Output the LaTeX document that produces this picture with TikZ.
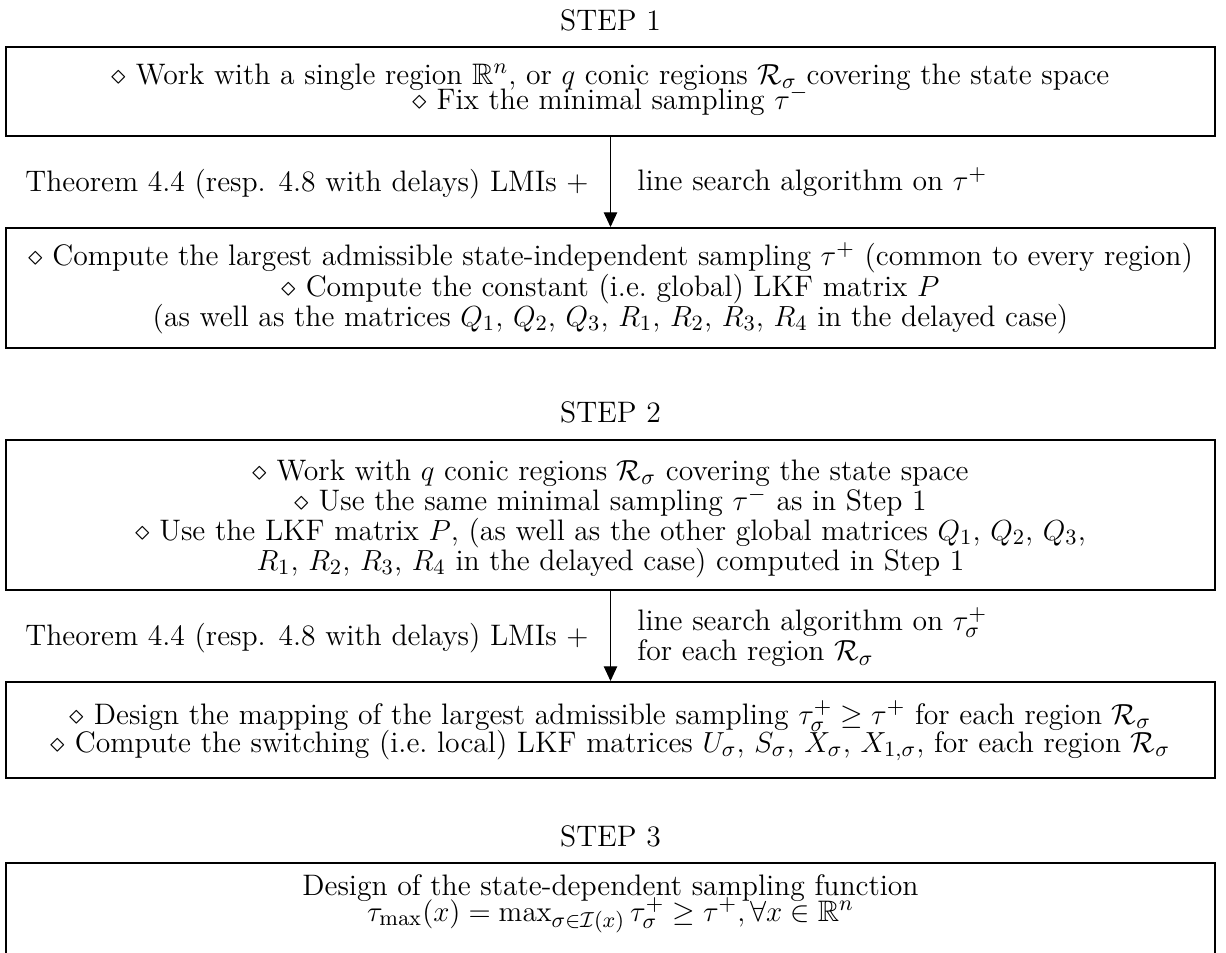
\documentclass[tikz,border=0pt]{standalone}
\usepackage{amsmath,amssymb}
\usetikzlibrary{arrows.meta}
\newcommand\myfs[1]{\fontsize{12.25}{#1}\selectfont\lineskiplimit=-\maxdimen}
\begin{document}
\begin{tikzpicture}[x=0.41322pt,y=-0.41322pt,
  every node/.style={font=\myfs{12.4pt}},
  box/.style={draw, line width=0.8pt, minimum width=499.6pt, inner sep=0pt},
  txt/.style={align=center, inner sep=0pt},
  lbl/.style={inner sep=0pt},
  arr/.style={-{Triangle[length=6pt,width=5.5pt]}, line width=0.4pt}]
\clip (0,0) rectangle (1226,953);
% STEP 1
\node[lbl] (s1) at (610.5,20) {STEP 1};
\node[box, minimum height=36.8pt] (b1) at (610.5,91.5) {};
\node[txt, font=\myfs{10.5pt}] (t1) at (610.5,89.5) {$\diamond$ Work with a single region $\mathbb{R}^n$, or $q$ conic regions $\mathcal{R}_\sigma$ covering the state space\\
$\diamond$ Fix the minimal sampling $\tau^-$};
\node[box, minimum height=49.6pt] (b2) at (610.5,288) {};
\node[txt] (t2) at (610.5,288) {$\diamond$ Compute the largest admissible state-independent sampling $\tau^+$ (common to every region)\\
$\diamond$ Compute the constant (i.e.\ global) LKF matrix $P$\\
(as well as the matrices $Q_1$, $Q_2$, $Q_3$, $R_1$, $R_2$, $R_3$, $R_4$ in the delayed case)};
\draw[arr] (b1.south) -- (b2.north);
\node[lbl, anchor=east] (l1) at (589,184) {Theorem 4.4 (resp. 4.8 with delays) LMIs $+$};
\node[lbl, anchor=west] (r1) at (637,182) {line search algorithm on $\tau^+$};
% STEP 2
\node[lbl] (s2) at (610.5,412) {STEP 2};
\node[box, minimum height=62pt] (b3) at (610.5,515) {};
\node[txt] (t3) at (610.5,519) {$\diamond$ Work with $q$ conic regions $\mathcal{R}_\sigma$ covering the state space\\
$\diamond$ Use the same minimal sampling $\tau^-$ as in Step 1\\
$\diamond$ Use the LKF matrix $P$, (as well as the other global matrices $Q_1$, $Q_2$, $Q_3$,\\
$R_1$, $R_2$, $R_3$, $R_4$ in the delayed case) computed in Step 1};
\node[box, minimum height=39.7pt] (b4) at (610.5,730) {};
\node[txt, font=\myfs{11.6pt}] (t4) at (610.5,731) {$\diamond$ Design the mapping of the largest admissible sampling $\tau_\sigma^+ \geq \tau^+$ for each region $\mathcal{R}_\sigma$\\
$\diamond$ Compute the switching (i.e.\ local) LKF matrices $U_\sigma$, $S_\sigma$, $X_\sigma$, $X_{1,\sigma}$, for each region $\mathcal{R}_\sigma$};
\draw[arr] (b3.south) -- (b4.north);
\node[lbl, anchor=east] (l2) at (589,638) {Theorem 4.4 (resp. 4.8 with delays) LMIs $+$};
\node[lbl, anchor=west, align=left] (r2) at (637,637) {line search algorithm on $\tau_\sigma^+$\\ for each region $\mathcal{R}_\sigma$};
% STEP 3
\node[lbl] (s3) at (610.5,836) {STEP 3};
\node[box, minimum height=49.6pt] (b5) at (610.5,923) {};
\node[txt, font=\myfs{10.5pt}] (t5) at (610.5,904) {Design of the state-dependent sampling function\\
$\tau_{\max}(x) = \max_{\sigma\in\mathcal{I}(x)} \tau_\sigma^+ \geq \tau^+, \forall x \in \mathbb{R}^n$};
\end{tikzpicture}
\end{document}
